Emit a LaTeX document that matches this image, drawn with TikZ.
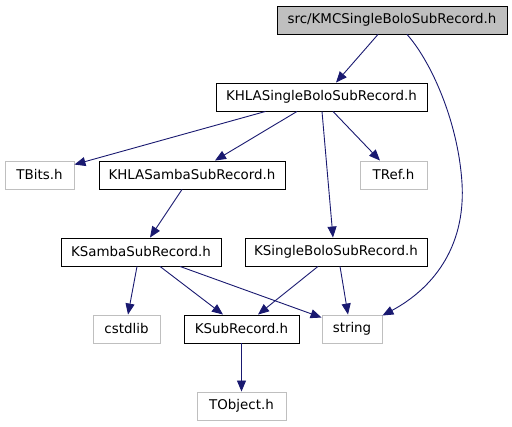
\documentclass[tikz,border=0pt]{standalone}
\usepackage{fontspec}
\setmainfont{DejaVu Sans}
\usepackage{xcolor}
\usepackage{tikz}
\usetikzlibrary{arrows.meta, positioning}
\definecolor{edgeblue}{HTML}{191970}
\definecolor{grey75}{HTML}{BFBFBF}
\tikzset{
    hdr/.style={draw=black, fill=white, line width=0.9pt, minimum height=28pt, inner sep=0pt,
                font=\fontsize{13.4}{15}\selectfont},
    roothdr/.style={hdr, fill=grey75},
    syshdr/.style={hdr, draw=grey75},
    arr/.style={-{Triangle[length=11pt,width=9pt]}, edgeblue, line width=0.9pt}
}
\begin{document}
\begin{tikzpicture}[x=1pt, y=-1pt]
        \useasboundingbox (0,0) rectangle (512,427);
        \node[roothdr, minimum width=230pt] (src) at (392,20) {src/KMCSingleBoloSubRecord.h};
        \node[hdr, minimum width=211pt] (khla) at (321.5,97) {KHLASingleBoloSubRecord.h};
        \node[syshdr, minimum width=69pt] (tbits) at (39.5,175) {TBits.h};
        \node[hdr, minimum width=186pt] (khlasamba) at (192,175) {KHLASambaSubRecord.h};
        \node[syshdr, minimum width=67pt] (tref) at (393.5,175) {TRef.h};
        \node[hdr, minimum width=160pt] (ksamba) at (141,252) {KSambaSubRecord.h};
        \node[hdr, minimum width=182pt] (ksbolo) at (336,252) {KSingleBoloSubRecord.h};
        \node[syshdr, minimum width=67pt] (cstdlib) at (126.5,329) {cstdlib};
        \node[hdr, minimum width=115pt] (ksub) at (241.5,329) {KSubRecord.h};
        \node[syshdr, minimum width=60pt] (string) at (352,329) {string};
        \node[syshdr, minimum width=89pt] (tobject) at (241.5,406) {TObject.h};
        % includes of the root file
        \draw[arr] ([xshift=-14pt]src.south) -- ([xshift=14.5pt]khla.north);
        \draw[arr] ([xshift=15pt]src.south) .. controls (430,60) and (458,120) .. (462,183)
            .. controls (466,250) and (430,290) .. ([yshift=-1pt]string.north east);
        % includes of KHLASingleBoloSubRecord.h
        \draw[arr] ([xshift=-56pt]khla.south) -- ([yshift=-4pt]tbits.north east);
        \draw[arr] ([xshift=-24.5pt]khla.south) -- ([xshift=23pt]khlasamba.north);
        \draw[arr] ([xshift=0.5pt]khla.south) -- ([xshift=-3pt]ksbolo.north);
        \draw[arr] ([xshift=11.5pt]khla.south) -- ([xshift=-13.5pt]tref.north);
        \draw[arr] ([xshift=-10pt]khlasamba.south) -- ([xshift=9pt]ksamba.north);
        % lower levels
        \draw[arr] ([xshift=-4pt]ksamba.south) -- ([xshift=1.5pt]cstdlib.north);
        \draw[arr] ([xshift=19pt]ksamba.south) -- ([xshift=-18.5pt]ksub.north);
        \draw[arr] ([xshift=39pt]ksamba.south) -- ([yshift=-3pt]string.north west);
        \draw[arr] ([xshift=-18pt]ksbolo.south) -- ([xshift=16.5pt]ksub.north);
        \draw[arr] ([xshift=4pt]ksbolo.south) -- ([xshift=-4pt]string.north);
        \draw[arr] (ksub) -- (tobject);
    \end{tikzpicture}
\end{document}
